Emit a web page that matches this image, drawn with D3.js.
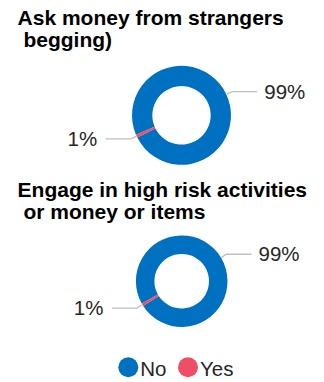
<!DOCTYPE html>
<html>
<head>
<meta charset="utf-8">
<script src="https://cdn.jsdelivr.net/npm/d3@7"></script>
<style>
  html, body { margin: 0; padding: 0; background: #ffffff; }
  svg { display: block; }
  text { font-family: "Liberation Sans", Arial, sans-serif; white-space: pre; }
</style>
</head>
<body>
<svg id="chart" width="324" height="382"></svg>
<script>
// Survey answers, one donut per question
const categories = ["No", "Yes"];
const questionTitles = [
  ["Ask money from strangers", " begging)"],
  ["Engage in high risk activities", " or money or items"]
];
const questionValues = [
  [99, 1],
  [99, 1]
];
const valueLabels = [
  ["99%", "1%"],
  ["99%", "1%"]
];

// Layout of each donut block
const layout = [
  { titleY: 25, cx: 181.5, cy: 115.3, outer: 49.5, inner: 29.2, rotation: 246.8 },
  { titleY: 196.7, cx: 181.7, cy: 281.2, outer: 45.8, inner: 27.3, rotation: 240.8 }
];

const color = d3.scaleOrdinal()
  .domain(categories)
  .range(["#0070c0", "#f04e66"]);

const svg = d3.select("#chart");
const deg = Math.PI / 180;

questionTitles.forEach((lines, qi) => {
  const L = layout[qi];
  const g = svg.append("g");

  // Title, two lines
  g.append("text")
    .attr("x", 17.6)
    .attr("y", L.titleY)
    .attr("font-size", 21)
    .attr("font-weight", "bold")
    .attr("fill", "#000")
    .selectAll("tspan")
    .data(lines)
    .join("tspan")
    .attr("x", 17.6)
    .attr("dy", (d, i) => i === 0 ? 0 : 22)
    .text(d => d);

  const rows = categories.map((c, i) => ({ cat: c, value: questionValues[qi][i], label: valueLabels[qi][i] }));

  const start = L.rotation * deg;
  const pie = d3.pie()
    .sort(null)
    .value(d => d.value)
    .startAngle(start)
    .endAngle(start + 2 * Math.PI);

  const arc = d3.arc().innerRadius(L.inner).outerRadius(L.outer);
  const arcs = pie(rows);

  const donut = g.append("g").attr("transform", `translate(${L.cx},${L.cy})`);

  donut.selectAll("path.slice")
    .data(arcs)
    .join("path")
    .attr("class", "slice")
    .attr("d", arc)
    .attr("fill", d => color(d.data.cat));

  // Leader lines and value labels
  arcs.forEach(a => {
    const mid = (a.startAngle + a.endAngle) / 2;
    const sx = Math.sin(mid), sy = -Math.cos(mid);
    const p1 = [sx * (L.outer + 0.5), sy * (L.outer + 0.5)];
    const p2 = [sx * (L.outer + 6.5), sy * (L.outer + 6.5)];
    const right = sx >= 0;
    const p3 = [p2[0] + (right ? 25 : -25), p2[1]];

    donut.append("polyline")
      .attr("points", [p1, p2, p3].map(p => p.join(",")).join(" "))
      .attr("fill", "none")
      .attr("stroke", "#bfbfbf")
      .attr("stroke-width", 1.3);

    donut.append("text")
      .attr("x", p3[0] + (right ? 7 : -8.5))
      .attr("y", p3[1])
      .attr("dy", "0.35em")
      .attr("text-anchor", right ? "start" : "end")
      .attr("font-size", 20.5)
      .attr("fill", "#262626")
      .text(a.data.label);
  });
});

// Legend
const legendX = d3.scalePoint().domain(categories).range([128.3, 188]);
const legend = svg.append("g");
categories.forEach(c => {
  const x = legendX(c);
  legend.append("circle")
    .attr("cx", x)
    .attr("cy", 367.3)
    .attr("r", 10)
    .attr("fill", color(c));
  legend.append("text")
    .attr("x", x + 12)
    .attr("y", 375.5)
    .attr("font-size", 20.5)
    .attr("fill", "#262626")
    .text(c);
});
</script>
</body>
</html>
